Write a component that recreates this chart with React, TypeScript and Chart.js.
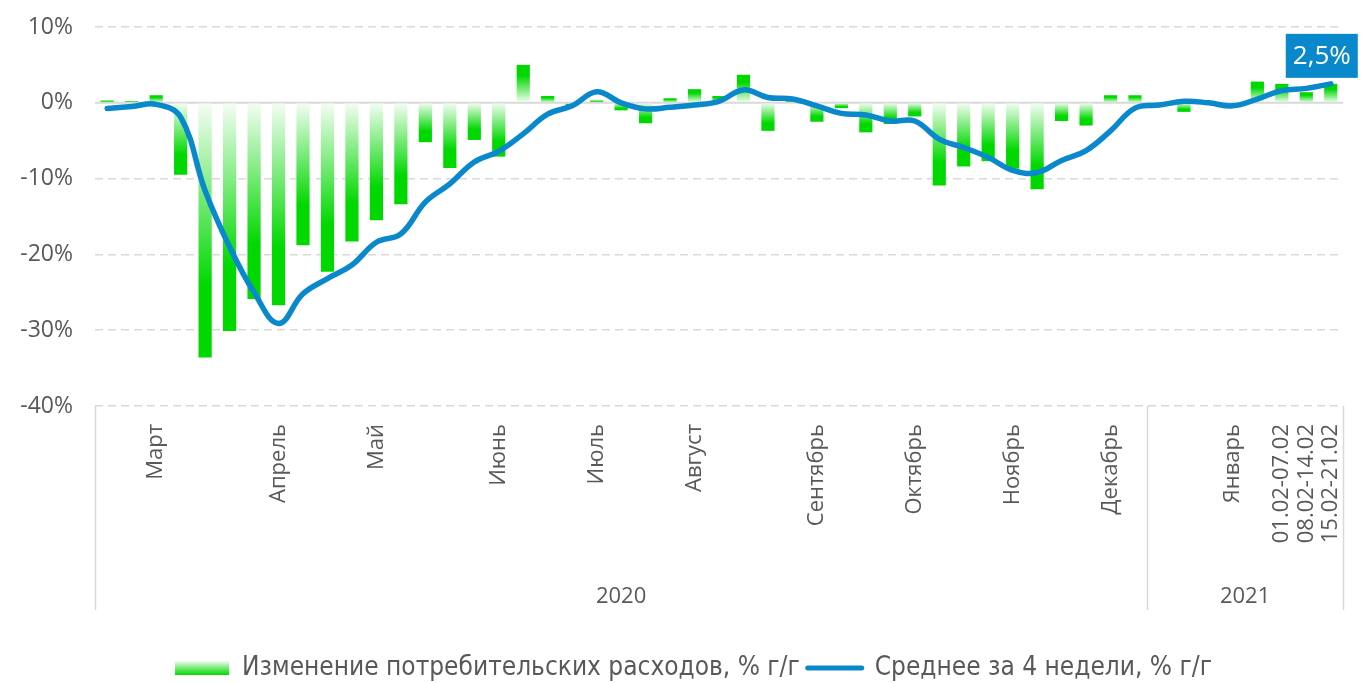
import React, { useEffect, useRef } from "react";
import { Chart, registerables } from "chart.js";

Chart.register(...registerables);

const categories: string[] = [
  "", "", "Март", "", "", "", "", "Апрель", "", "", "",
  "Май", "", "", "", "", "Июнь", "", "", "", "Июль",
  "", "", "", "Август", "", "", "", "", "Сентябрь", "",
  "", "", "Октябрь", "", "", "", "Ноябрь", "", "", "",
  "Декабрь", "", "", "", "", "Январь", "", "01.02-07.02", "08.02-14.02", "15.02-21.02",
];

const spending: number[] = [
  0.3, 0.2, 1.0, -9.5, -33.6, -30.1, -25.9, -26.7, -18.8, -22.3,
  -18.3, -15.5, -13.4, -5.2, -8.6, -4.9, -7.1, 5.0, 0.9, -0.3,
  0.3, -1.0, -2.7, 0.6, 1.8, 0.9, 3.7, -3.7, 0.2, -2.5,
  -0.7, -3.9, -2.8, -1.8, -10.9, -8.4, -7.7, -8.7, -11.4, -2.4,
  -3.0, 1.0, 1.0, 0.0, -1.2, 0.1, -0.2, 2.8, 2.5, 1.4,
  2.5,
];

const avg4w: number[] = [
  -0.75, -0.5, -0.2, -1.9, -11.6, -19.0, -25.0, -29.1, -25.2, -23.2,
  -21.4, -18.4, -17.3, -13.1, -10.7, -7.8, -6.4, -4.1, -1.5, -0.4,
  1.45, 0.0, -0.8, -0.6, -0.3, 0.2, 1.7, 0.7, 0.5, -0.4,
  -1.4, -1.6, -2.4, -2.4, -4.8, -5.9, -7.2, -8.9, -9.2, -7.6,
  -6.3, -3.7, -0.7, -0.3, 0.2, 0.0, -0.4, 0.5, 1.6, 1.9,
  2.5,
];

const years: string[] = ["2020", "2021"];
const yearStarts: number[] = [0, 43];

const seriesNames: string[] = [
  "Изменение потребительских расходов, % г/г",
  "Среднее за 4 недели, % г/г",
];

const lastLabel = "2,5%";

const GREEN = "rgb(0,216,0)";
const BLUE = "#0a88cc";
const TEXT = "#595959";
const GRID = "#d9d9d9";
const FONT = "'Open Sans', sans-serif";

export default function App() {
  const ref = useRef<HTMLCanvasElement | null>(null);

  useEffect(() => {
    document.body.style.margin = "0";
    const canvas = ref.current;
    if (!canvas) return;

    const barGradient = (ctx: any) => {
      const chart = ctx.chart;
      const sc = chart.scales && chart.scales.y;
      if (!chart.chartArea || !sc || ctx.type !== "data") return GREEN;
      const v = ctx.raw as number;
      const y0 = sc.getPixelForValue(0);
      const y1 = sc.getPixelForValue(v);
      if (Math.abs(y1 - y0) < 0.5) return GREEN;
      const g = chart.ctx.createLinearGradient(0, y0, 0, y1);
      g.addColorStop(0, "rgba(245,253,245,1)");
      g.addColorStop(0.72, GREEN);
      g.addColorStop(1, GREEN);
      return g;
    };

    const decor = {
      id: "decor",
      afterLayout(chart: any) {
        if (chart.legend) chart.legend.left += 44;
      },
      beforeDatasetsDraw(chart: any) {
        const { ctx, chartArea, scales } = chart;
        const y0 = scales.y.getPixelForValue(0);
        ctx.save();
        ctx.strokeStyle = GRID;
        ctx.lineWidth = 2;
        ctx.beginPath();
        ctx.moveTo(chartArea.left, y0);
        ctx.lineTo(chartArea.right, y0);
        ctx.stroke();
        ctx.restore();
      },
      afterDraw(chart: any) {
        const { ctx, chartArea, scales } = chart;
        const x = scales.x;
        const top = chartArea.bottom;
        const bottom = chartArea.bottom + 204;
        const half = (x.getPixelForValue(1) - x.getPixelForValue(0)) / 2;
        const bounds: number[] = yearStarts.map((s) => x.getPixelForValue(s) - half);
        bounds.push(x.getPixelForValue(categories.length - 1) + half);
        ctx.save();
        ctx.strokeStyle = GRID;
        ctx.lineWidth = 1.5;
        bounds.forEach((bx) => {
          ctx.beginPath();
          ctx.moveTo(Math.round(bx) + 0.5, top);
          ctx.lineTo(Math.round(bx) + 0.5, bottom);
          ctx.stroke();
        });
        ctx.fillStyle = TEXT;
        ctx.font = `22px ${FONT}`;
        ctx.textAlign = "center";
        ctx.textBaseline = "middle";
        years.forEach((yr, i) => {
          ctx.fillText(yr, (bounds[i] + bounds[i + 1]) / 2, chartArea.bottom + 191);
        });

        // last value callout
        const meta = chart.getDatasetMeta(1);
        const pt = meta.data[meta.data.length - 1];
        if (pt) {
          const bx = pt.x - 45;
          const by = pt.y - 50;
          ctx.fillStyle = BLUE;
          ctx.fillRect(bx, by, 72, 44);
          ctx.fillStyle = "#ffffff";
          ctx.font = `26px ${FONT}`;
          ctx.fillText(lastLabel, bx + 36, by + 23);
        }
        ctx.restore();
      },
      beforeDraw(chart: any) {
        const lg = chart.legend;
        if (!lg || !lg.legendHitBoxes || !lg.legendItems) return;
        const hb = lg.legendHitBoxes[0];
        const item = lg.legendItems[0];
        if (!hb || !item) return;
        const cy = hb.top + hb.height / 2;
        const g = chart.ctx.createLinearGradient(0, cy - 7, 0, cy + 7);
        g.addColorStop(0, "rgba(240,252,240,1)");
        g.addColorStop(1, GREEN);
        item.fillStyle = g;
      },
    };

    const chart = new Chart(canvas, {
      type: "bar",
      data: {
        labels: categories,
        datasets: [
          {
            type: "bar",
            label: seriesNames[0],
            data: spending,
            backgroundColor: barGradient,
            borderWidth: 0,
            categoryPercentage: 1,
            barPercentage: 0.54,
            order: 2,
          } as any,
          {
            type: "line",
            label: seriesNames[1],
            data: avg4w,
            borderColor: BLUE,
            borderWidth: 5.5,
            tension: 0.4,
            pointRadius: 0,
            borderCapStyle: "round",
            borderJoinStyle: "round",
            fill: false,
            order: 1,
          } as any,
        ],
      },
      options: {
        responsive: false,
        animation: false,
        layout: { padding: { top: 27, right: 19, left: 0, bottom: 0 } },
        plugins: {
          tooltip: { enabled: false },
          legend: {
            position: "bottom",
            maxHeight: 36,
            labels: {
              usePointStyle: true,
              pointStyleWidth: 54,
              boxHeight: 14,
              padding: 8,
              color: TEXT,
              font: { family: "'DejaVu Sans Condensed', 'DejaVu Sans', sans-serif", size: 26 },
              generateLabels: () => [
                {
                  text: seriesNames[0],
                  fillStyle: GREEN,
                  strokeStyle: "rgba(0,0,0,0)",
                  lineWidth: 0,
                  pointStyle: "rect",
                  datasetIndex: 0,
                  fontColor: TEXT,
                } as any,
                {
                  text: seriesNames[1],
                  fillStyle: BLUE,
                  strokeStyle: BLUE,
                  lineWidth: 5,
                  lineCap: "round",
                  pointStyle: "line",
                  datasetIndex: 1,
                  fontColor: TEXT,
                } as any,
              ],
            },
          },
        },
        scales: {
          x: {
            grid: { display: false },
            border: { display: false },
            ticks: {
              autoSkip: false,
              maxRotation: 90,
              minRotation: 90,
              padding: 10,
              color: TEXT,
              font: { family: FONT, size: 22 },
            },
            afterFit: (s: any) => {
              s.height = 241;
              s.paddingLeft = 0;
              s.paddingRight = 0;
            },
          },
          y: {
            min: -40,
            max: 10,
            grid: {
              drawTicks: false,
              color: (c: any) => (c.tick && c.tick.value === 0 ? "rgba(0,0,0,0)" : GRID),
              lineWidth: 1.5,
            },
            border: { display: false, dash: [8, 5] },
            ticks: {
              stepSize: 10,
              padding: 22,
              color: TEXT,
              font: { family: FONT, size: 23 },
              callback: (v: any) => `${v}%`,
            },
            afterFit: (s: any) => {
              s.width = 95;
              s.paddingTop = 0;
              s.paddingBottom = 0;
            },
          },
        },
      },
      plugins: [decor],
    });

    return () => chart.destroy();
  }, []);

  return (
    <div style={{ width: 1362, height: 683 }}>
      <canvas ref={ref} width={1362} height={683} />
    </div>
  );
}
